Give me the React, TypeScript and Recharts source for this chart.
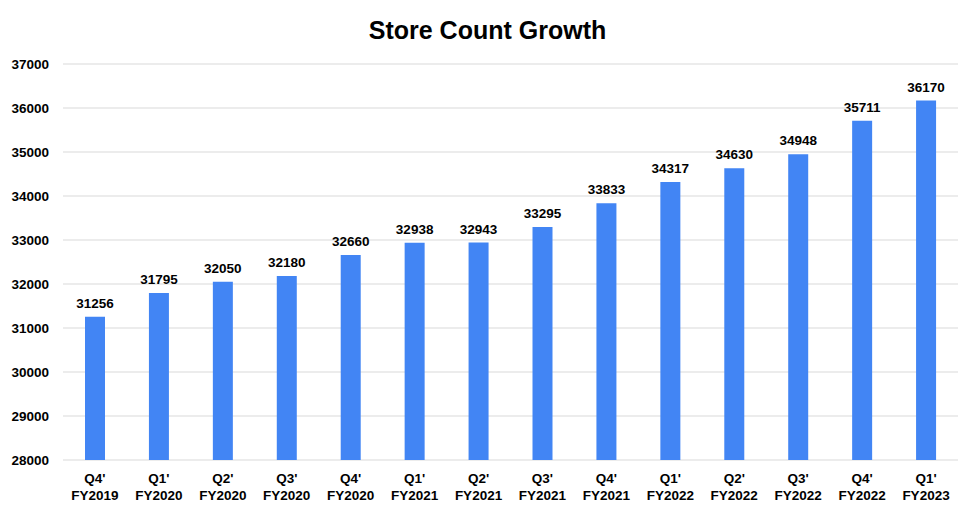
import { BarChart, Bar, XAxis, YAxis, CartesianGrid, LabelList } from "recharts";

const quarters = ["Q4'", "Q1'", "Q2'", "Q3'", "Q4'", "Q1'", "Q2'", "Q3'", "Q4'", "Q1'", "Q2'", "Q3'", "Q4'", "Q1'"];
const fiscalYears = [
  "FY2019", "FY2020", "FY2020", "FY2020", "FY2020", "FY2021", "FY2021",
  "FY2021", "FY2021", "FY2022", "FY2022", "FY2022", "FY2022", "FY2023",
];
const storeCounts = [31256, 31795, 32050, 32180, 32660, 32938, 32943, 33295, 33833, 34317, 34630, 34948, 35711, 36170];
const yTicks = [28000, 29000, 30000, 31000, 32000, 33000, 34000, 35000, 36000, 37000];

const data = storeCounts.map((v, i) => ({
  label: `${quarters[i]}\n${fiscalYears[i]}`,
  stores: v,
}));

// spreadsheet cell dividers peeking above the chart frame
const cellEdges = [53, 164, 275, 386, 497, 608, 720, 830, 941];

const FONT = "'Liberation Sans', Arial, sans-serif";

function TwoLineTick(props: any) {
  const { x, y, payload } = props;
  const lines = String(payload.value).split("\n");
  return (
    <text x={x} y={y} textAnchor="middle" fontFamily={FONT} fontSize={13.5} fontWeight="bold" fill="#000">
      {lines.map((l, i) => (
        <tspan key={i} x={x} dy={i === 0 ? 15 : 16.5}>
          {l}
        </tspan>
      ))}
    </text>
  );
}

export default function App() {
  return (
    <div style={{ position: "relative", width: 976, height: 513, margin: -8, background: "#fff", overflow: "hidden" }}>
      {cellEdges.map((x) => (
        <div key={x} style={{ position: "absolute", left: x, top: 0, width: 1, height: 3, background: "#d9d9d9" }} />
      ))}
      <div
        style={{
          position: "absolute",
          left: 0,
          top: 3,
          width: 976,
          height: 507,
          borderTop: "1px solid #d9d9d9",
          borderLeft: "1px solid #d9d9d9",
          borderBottom: "1px solid #d9d9d9",
        }}
      />
      <div style={{ position: "absolute", left: 0, top: 0 }}>
        <BarChart width={976} height={513} data={data} margin={{ top: 64, right: 18, bottom: 13, left: 0 }}>
          <text x={487.5} y={38.5} textAnchor="middle" fontFamily={FONT} fontSize={25} fontWeight="bold" fill="#000">
            Store Count Growth
          </text>
          <CartesianGrid vertical={false} stroke="#d9d9d9" />
          <XAxis dataKey="label" axisLine={false} tickLine={false} height={40} interval={0} tick={<TwoLineTick />} />
          <YAxis
            domain={[28000, 37000]}
            ticks={yTicks}
            width={63}
            axisLine={false}
            tickLine={false}
            tickSize={0}
            tickMargin={14}
            tick={{ fontFamily: FONT, fontSize: 13.5, fontWeight: "bold", fill: "#000" }}
          />
          <Bar dataKey="stores" fill="#4285F4" barSize={20} isAnimationActive={false}>
            <LabelList
              dataKey="stores"
              position="top"
              offset={9}
              style={{ fontFamily: FONT, fontSize: 13.5, fontWeight: "bold", fill: "#000" }}
            />
          </Bar>
        </BarChart>
      </div>
    </div>
  );
}
